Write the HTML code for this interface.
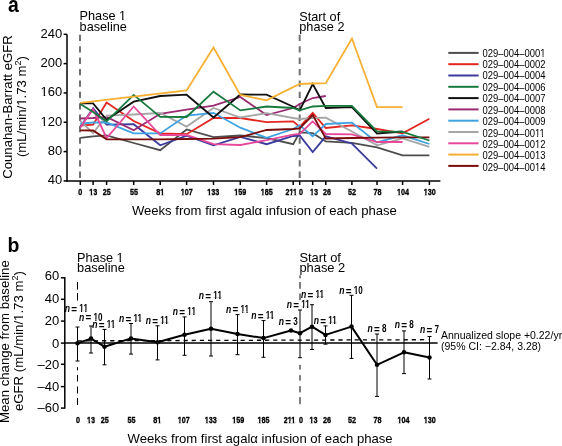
<!DOCTYPE html>
<html><head><meta charset="utf-8"><style>
html,body{margin:0;padding:0;background:#fff;}
svg{display:block;will-change:transform;}
text{font-family:"Liberation Sans",sans-serif;}
.t13{font-size:13px;fill:#000;}
.tk{font-family:"Liberation Sans",sans-serif;font-weight:bold;font-size:9.9px;fill:#000;stroke:#000;stroke-width:0.35px;}
.lg{font-size:10px;fill:#000;}
.nl{font-weight:bold;font-size:10.6px;fill:#000;}
</style></head><body>
<svg width="562" height="446" viewBox="0 0 562 446">
<rect width="562" height="446" fill="#fff"/>

<text x="0" y="0" transform="translate(7.9 11.8) scale(0.88 1)" style="font-weight:bold;font-size:22px">a</text>
<g transform="translate(12.2,107) rotate(-90)"><text class="t13" style="font-size:13.2px" text-anchor="middle" x="0" y="0">Counahan-Barratt eGFR</text></g>
<g transform="translate(25.95,106.6) rotate(-90)"><text class="t13" style="font-size:13.2px" text-anchor="middle" x="0" y="0">(mL/min/1.73 m<tspan dy="-5.2" font-size="9">2</tspan><tspan dy="5.2">)</tspan></text></g>
<path d="M67 34.3 V181.8" stroke="#000" stroke-width="1.5" fill="none"/>
<path d="M63.6 34.3 H67" stroke="#000" stroke-width="1.5"/>
<text class="t13" text-anchor="end" x="62.3" y="37.7">240</text>
<path d="M63.6 63.62 H67" stroke="#000" stroke-width="1.5"/>
<text class="t13" text-anchor="end" x="62.3" y="67.02">200</text>
<path d="M63.6 92.94 H67" stroke="#000" stroke-width="1.5"/>
<text class="t13" text-anchor="end" x="62.3" y="96.34">160</text>
<path d="M63.6 122.26 H67" stroke="#000" stroke-width="1.5"/>
<text class="t13" text-anchor="end" x="62.3" y="125.66">120</text>
<path d="M63.6 151.58 H67" stroke="#000" stroke-width="1.5"/>
<text class="t13" text-anchor="end" x="62.3" y="154.98">80</text>
<path d="M63.6 180.9 H67" stroke="#000" stroke-width="1.5"/>
<text class="t13" text-anchor="end" x="62.3" y="184.3">40</text>
<path d="M66.3 181 H440.4" stroke="#000" stroke-width="1.5" fill="none"/>
<path d="M80.3 181 V185" stroke="#000" stroke-width="1.5"/>
<path d="M93.1 181 V185" stroke="#000" stroke-width="1.5"/>
<path d="M106.6 181 V185" stroke="#000" stroke-width="1.5"/>
<path d="M133.7 181 V185" stroke="#000" stroke-width="1.5"/>
<path d="M160.2 181 V185" stroke="#000" stroke-width="1.5"/>
<path d="M186.6 181 V185" stroke="#000" stroke-width="1.5"/>
<path d="M213.5 181 V185" stroke="#000" stroke-width="1.5"/>
<path d="M240.3 181 V185" stroke="#000" stroke-width="1.5"/>
<path d="M266.6 181 V185" stroke="#000" stroke-width="1.5"/>
<path d="M293.2 181 V185" stroke="#000" stroke-width="1.5"/>
<path d="M299.7 181 V185" stroke="#000" stroke-width="1.5"/>
<path d="M312.7 181 V185" stroke="#000" stroke-width="1.5"/>
<path d="M325.8 181 V185" stroke="#000" stroke-width="1.5"/>
<path d="M351.9 181 V185" stroke="#000" stroke-width="1.5"/>
<path d="M377 181 V185" stroke="#000" stroke-width="1.5"/>
<path d="M402.6 181 V185" stroke="#000" stroke-width="1.5"/>
<path d="M429.4 181 V185" stroke="#000" stroke-width="1.5"/>
<path d="M80 34.8 V180" stroke="#707070" stroke-width="2" stroke-dasharray="6.3 5.1" fill="none"/>
<path d="M299.7 34.8 V180" stroke="#707070" stroke-width="2" stroke-dasharray="6.3 5.1" fill="none"/>
<text class="tk" text-anchor="middle" x="0" y="194.7" transform="translate(80.35 0) scale(0.73 1) translate(0 0)">0</text>
<text class="tk" text-anchor="middle" x="0" y="194.7" transform="translate(93.3 0) scale(0.73 1) translate(0 0)">13</text>
<text class="tk" text-anchor="middle" x="0" y="194.7" transform="translate(106.7 0) scale(0.73 1) translate(0 0)">25</text>
<text class="tk" text-anchor="middle" x="0" y="194.7" transform="translate(134.1 0) scale(0.73 1) translate(0 0)">55</text>
<text class="tk" text-anchor="middle" x="0" y="194.7" transform="translate(160.2 0) scale(0.73 1) translate(0 0)">81</text>
<text class="tk" text-anchor="middle" x="0" y="194.7" transform="translate(186.7 0) scale(0.73 1) translate(0 0)">107</text>
<text class="tk" text-anchor="middle" x="0" y="194.7" transform="translate(213.3 0) scale(0.73 1) translate(0 0)">133</text>
<text class="tk" text-anchor="middle" x="0" y="194.7" transform="translate(240.2 0) scale(0.73 1) translate(0 0)">159</text>
<text class="tk" text-anchor="middle" x="0" y="194.7" transform="translate(266.7 0) scale(0.73 1) translate(0 0)">185</text>
<text class="tk" text-anchor="middle" x="0" y="194.7" transform="translate(291.2 0) scale(0.73 1) translate(0 0)">211</text>
<text class="tk" text-anchor="middle" x="0" y="194.7" transform="translate(301.1 0) scale(0.73 1) translate(0 0)">0</text>
<text class="tk" text-anchor="middle" x="0" y="194.7" transform="translate(313.9 0) scale(0.73 1) translate(0 0)">13</text>
<text class="tk" text-anchor="middle" x="0" y="194.7" transform="translate(327.1 0) scale(0.73 1) translate(0 0)">26</text>
<text class="tk" text-anchor="middle" x="0" y="194.7" transform="translate(352 0) scale(0.73 1) translate(0 0)">52</text>
<text class="tk" text-anchor="middle" x="0" y="194.7" transform="translate(377.5 0) scale(0.73 1) translate(0 0)">78</text>
<text class="tk" text-anchor="middle" x="0" y="194.7" transform="translate(403 0) scale(0.73 1) translate(0 0)">104</text>
<text class="tk" text-anchor="middle" x="0" y="194.7" transform="translate(429.7 0) scale(0.73 1) translate(0 0)">130</text>
<text class="t13" x="131.9" y="214.8" style="font-size:13.1px">Weeks from first agalα infusion of each phase</text>
<text x="79.6" y="20.2" style="font-size:12.7px">Phase 1</text><text x="79.6" y="31.2" style="font-size:12.7px">baseline</text>
<text x="299.3" y="20.5" style="font-size:12.7px">Start of</text><text x="299.3" y="30.7" style="font-size:12.7px">phase 2</text>
<path d="M80.3 137.8 L93.1 136.3 L106.6 135.3 L133.7 143 L160.2 150.2 L186.6 129.5 L213.5 137.1 L240.3 135.5 L266.6 138 L293.2 144.2 L299.7 132.4 L312.7 133.2 L325.8 141.4 L351.9 142.8 L377 147.3 L402.6 155.3 L429.4 155.3" stroke="#4d4d4d" stroke-width="1.8" fill="none" stroke-linejoin="miter"/>
<path d="M80.3 125.5 L93.1 124.7 L106.6 102.6 L133.7 121 L160.2 133.4 L186.6 134.2 L213.5 118 L240.3 118 L266.6 122.2 L293.2 121.4 L299.7 126.9 L312.7 112.8 L325.8 128 L351.9 125.3 L377 129 L402.6 133.3 L429.4 118.8" stroke="#e3261f" stroke-width="1.8" fill="none" stroke-linejoin="miter"/>
<path d="M80.3 127 L93.1 108.2 L106.6 124.7 L133.7 124.2 L160.2 145.3 L186.6 135.7 L213.5 145.3 L240.3 137 L266.6 144.2 L293.2 136 L299.7 135.5 L312.7 152 L325.8 136.3 L351.9 143.5 L377 168.7" stroke="#3b3b9e" stroke-width="1.8" fill="none" stroke-linejoin="miter"/>
<path d="M80.3 118.5 L93.1 118 L106.6 117 L133.7 130.2 L160.2 113.8 L186.6 109.6 L213.5 105.7 L240.3 97 L266.6 115.1 L293.2 108 L299.7 104 L312.7 98 L325.8 96" stroke="#9a2a72" stroke-width="1.8" fill="none" stroke-linejoin="miter"/>
<path d="M80.3 121 L93.1 133.1 L106.6 115.7 L133.7 114.5 L160.2 113 L186.6 126.6 L213.5 108 L240.3 117.5 L266.6 113.2 L293.2 118 L299.7 119 L312.7 118 L325.8 117.6 L351.9 131.5 L377 145.3 L402.6 138.5 L429.4 146.8" stroke="#a6a6a6" stroke-width="1.8" fill="none" stroke-linejoin="miter"/>
<path d="M80.3 123.6 L93.1 122.5 L106.6 122.5 L133.7 133.4 L160.2 133.4 L186.6 115.5 L213.5 112.8 L240.3 127.7 L266.6 137.9 L293.2 129 L299.7 125.3 L312.7 136.3 L325.8 124 L351.9 122.6 L377 142.4 L402.6 135.3 L429.4 144" stroke="#3ea3e0" stroke-width="1.8" fill="none" stroke-linejoin="miter"/>
<path d="M80.3 127.5 L93.1 109 L106.6 138 L133.7 106.5 L160.2 135 L186.6 135 L213.5 144.2 L240.3 145 L266.6 140.2 L293.2 134.7 L299.7 134 L312.7 121.4 L325.8 134 L351.9 134.3 L377 142 L402.6 142" stroke="#e8489a" stroke-width="1.8" fill="none" stroke-linejoin="miter"/>
<path d="M80.3 130.3 L93.1 130.5 L106.6 139.3 L133.7 139.3 L160.2 139.3 L186.6 139 L213.5 138.7 L240.3 137.1 L266.6 130 L293.2 129 L299.7 128.5 L312.7 115.1 L325.8 138.5 L351.9 138 L377 137.6 L402.6 137.4 L429.4 137.4" stroke="#7a0c0c" stroke-width="1.8" fill="none" stroke-linejoin="miter"/>
<path d="M80.3 103.4 L93.1 103.4 L106.6 119.7 L133.7 101.7 L160.2 96 L186.6 94.7 L213.5 117.5 L240.3 94.5 L266.6 94.6 L293.2 106.7 L299.7 110.4 L312.7 84 L325.8 108 L351.9 107.2 L377 133.5 L402.6 131.5" stroke="#111111" stroke-width="1.8" fill="none" stroke-linejoin="miter"/>
<path d="M80.3 104 L93.1 112 L106.6 121.3 L133.7 94.9 L160.2 116.9 L186.6 117 L213.5 91.7 L240.3 110.4 L266.6 106.5 L293.2 108 L299.7 110.4 L312.7 106.5 L325.8 105.8 L351.9 105.8 L377 131.3 L402.6 131.8 L429.4 140.5" stroke="#177a3c" stroke-width="1.8" fill="none" stroke-linejoin="miter"/>
<path d="M80.3 102.8 L186.6 90.5 L213.5 47.5 L240.3 95 L266.6 100.3 L299.7 84 L312.7 83.5 L325.8 83.2 L351.9 38.5 L377 107.1 L402.6 107.1" stroke="#f7b032" stroke-width="1.8" fill="none" stroke-linejoin="miter"/>
<path d="M448.3 52.9 H478.6" stroke="#4d4d4d" stroke-width="2"/>
<text class="lg" x="0" y="0" transform="translate(482.5 56.6) scale(0.945 1)">029–004–0001</text>
<path d="M448.3 64.2 H478.6" stroke="#e3261f" stroke-width="2"/>
<text class="lg" x="0" y="0" transform="translate(482.5 68.03) scale(0.945 1)">029–004–0002</text>
<path d="M448.3 75.5 H478.6" stroke="#3b3b9e" stroke-width="2"/>
<text class="lg" x="0" y="0" transform="translate(482.5 79.46) scale(0.945 1)">029–004–0004</text>
<path d="M448.3 86.8 H478.6" stroke="#177a3c" stroke-width="2"/>
<text class="lg" x="0" y="0" transform="translate(482.5 90.89) scale(0.945 1)">029–004–0006</text>
<path d="M448.3 98.1 H478.6" stroke="#111111" stroke-width="2"/>
<text class="lg" x="0" y="0" transform="translate(482.5 102.32) scale(0.945 1)">029–004–0007</text>
<path d="M448.3 109.4 H478.6" stroke="#9a2a72" stroke-width="2"/>
<text class="lg" x="0" y="0" transform="translate(482.5 113.75) scale(0.945 1)">029–004–0008</text>
<path d="M448.3 120.7 H478.6" stroke="#3ea3e0" stroke-width="2"/>
<text class="lg" x="0" y="0" transform="translate(482.5 125.18) scale(0.945 1)">029–004–0009</text>
<path d="M448.3 132 H478.6" stroke="#a6a6a6" stroke-width="2"/>
<text class="lg" x="0" y="0" transform="translate(482.5 136.61) scale(0.945 1)">029–004–0011</text>
<path d="M448.3 143.3 H478.6" stroke="#e8489a" stroke-width="2"/>
<text class="lg" x="0" y="0" transform="translate(482.5 148.04) scale(0.945 1)">029–004–0012</text>
<path d="M448.3 154.6 H478.6" stroke="#f7b032" stroke-width="2"/>
<text class="lg" x="0" y="0" transform="translate(482.5 159.47) scale(0.945 1)">029–004–0013</text>
<path d="M448.3 165.9 H478.6" stroke="#7a0c0c" stroke-width="2"/>
<text class="lg" x="0" y="0" transform="translate(482.5 170.9) scale(0.945 1)">029–004–0014</text>
<text x="7.6" y="252.2" style="font-weight:bold;font-size:19.5px">b</text>
<g transform="translate(9.2,341.6) rotate(-90)"><text class="t13" style="font-size:13.2px" text-anchor="middle" x="0" y="0">Mean change from baseline</text></g>
<g transform="translate(22.8,341.1) rotate(-90)"><text class="t13" style="font-size:13.2px" text-anchor="middle" x="0" y="0">eGFR (mL/min/1.73 m<tspan dy="-5.2" font-size="9">2</tspan><tspan dy="5.2">)</tspan></text></g>
<path d="M64.8 277.1 V408.8" stroke="#000" stroke-width="1.5" fill="none"/>
<path d="M60.9 277.8 H64.8" stroke="#000" stroke-width="1.5"/>
<text class="t13" text-anchor="end" x="59.2" y="280.1">60</text>
<path d="M60.9 299.3 H64.8" stroke="#000" stroke-width="1.5"/>
<text class="t13" text-anchor="end" x="59.2" y="302.9">40</text>
<path d="M60.9 321.1 H64.8" stroke="#000" stroke-width="1.5"/>
<text class="t13" text-anchor="end" x="59.2" y="325.4">20</text>
<path d="M60.9 343.1 H64.8" stroke="#000" stroke-width="1.5"/>
<text class="t13" text-anchor="end" x="59.2" y="347.7">0</text>
<path d="M60.9 364.3 H64.8" stroke="#000" stroke-width="1.5"/>
<text class="t13" text-anchor="end" x="59.2" y="369.1">–20</text>
<path d="M60.9 386.6 H64.8" stroke="#000" stroke-width="1.5"/>
<text class="t13" text-anchor="end" x="59.2" y="390.9">–40</text>
<path d="M60.9 408.1 H64.8" stroke="#000" stroke-width="1.5"/>
<text class="t13" text-anchor="end" x="59.2" y="411.7">–60</text>
<path d="M64.8 343.0 H437.6" stroke="#000" stroke-width="1.7" fill="none"/>
<path d="M77.6 340.85 L428.4 339.7" stroke="#000" stroke-width="1.3" stroke-dasharray="4.2 3.95" stroke-dashoffset="0" fill="none"/>
<path d="M77.5 282 V289.5 M77.5 293 V300.5 M77.5 367.2 V370.4 M77.5 375 V381.5 M77.5 386.5 V393.5 M77.5 398 V405" stroke="#000" stroke-width="1" fill="none"/>
<path d="M300 275.4 V278.2 M300 282 V288.8 M300 293.5 V300.2 M300 364.9 V369.6 M300 375.1 V380.6 M300 386.1 V392.4 M300 397.1 V404.2" stroke="#000" stroke-width="1" fill="none"/>
<path d="M77.5 327 V361 M75.5 327 H79.5 M75.5 361 H79.5" stroke="#000" stroke-width="1" fill="none"/>
<path d="M91 326 V353 M89 326 H93 M89 353 H93" stroke="#000" stroke-width="1" fill="none"/>
<path d="M104.5 329.4 V364.8 M102.5 329.4 H106.5 M102.5 364.8 H106.5" stroke="#000" stroke-width="1" fill="none"/>
<path d="M131 323.5 V354.1 M129 323.5 H133 M129 354.1 H133" stroke="#000" stroke-width="1" fill="none"/>
<path d="M157.5 325.8 V359.9 M155.5 325.8 H159.5 M155.5 359.9 H159.5" stroke="#000" stroke-width="1" fill="none"/>
<path d="M184.5 316.9 V355.3 M182.5 316.9 H186.5 M182.5 355.3 H186.5" stroke="#000" stroke-width="1" fill="none"/>
<path d="M211 301.7 V356 M209 301.7 H213 M209 356 H213" stroke="#000" stroke-width="1" fill="none"/>
<path d="M237.5 314.6 V354.7 M235.5 314.6 H239.5 M235.5 354.7 H239.5" stroke="#000" stroke-width="1" fill="none"/>
<path d="M263.5 320.6 V357.3 M261.5 320.6 H265.5 M261.5 357.3 H265.5" stroke="#000" stroke-width="1" fill="none"/>
<path d="M300 310 V357.7 M298 310 H302 M298 357.7 H302" stroke="#000" stroke-width="1" fill="none"/>
<path d="M312 304.7 V349.5 M310 304.7 H314 M310 349.5 H314" stroke="#000" stroke-width="1" fill="none"/>
<path d="M325.5 325.9 V344.2 M323.5 325.9 H327.5 M323.5 344.2 H327.5" stroke="#000" stroke-width="1" fill="none"/>
<path d="M351.5 295.3 V358.4 M349.5 295.3 H353.5 M349.5 358.4 H353.5" stroke="#000" stroke-width="1" fill="none"/>
<path d="M377 334 V396.4 M375 334 H379 M375 396.4 H379" stroke="#000" stroke-width="1" fill="none"/>
<path d="M404 330.9 V373.6 M402 330.9 H406 M402 373.6 H406" stroke="#000" stroke-width="1" fill="none"/>
<path d="M429.5 336.5 V379 M427.5 336.5 H431.5 M427.5 379 H431.5" stroke="#000" stroke-width="1" fill="none"/>
<path d="M77.5 343.3 L91 338.6 L104.5 346.7 L131 338.4 L157.5 342.3 L184.5 334.8 L211 328.8 L237.5 334 L263.5 338.1 L291 330.5 L300 333.2 L312 326.7 L325.5 334.9 L351.5 326.6 L377 364.8 L404 352.3 L429.5 357.6" stroke="#000" stroke-width="2.0" fill="none" stroke-linejoin="round"/>
<circle cx="77.5" cy="343.3" r="2.25" fill="#000"/>
<circle cx="91" cy="338.6" r="2.25" fill="#000"/>
<circle cx="104.5" cy="346.7" r="2.25" fill="#000"/>
<circle cx="131" cy="338.4" r="2.25" fill="#000"/>
<circle cx="157.5" cy="342.3" r="2.25" fill="#000"/>
<circle cx="184.5" cy="334.8" r="2.25" fill="#000"/>
<circle cx="211" cy="328.8" r="2.25" fill="#000"/>
<circle cx="237.5" cy="334" r="2.25" fill="#000"/>
<circle cx="263.5" cy="338.1" r="2.25" fill="#000"/>
<circle cx="291" cy="330.5" r="2.25" fill="#000"/>
<circle cx="300" cy="333.2" r="2.25" fill="#000"/>
<circle cx="312" cy="326.7" r="2.25" fill="#000"/>
<circle cx="325.5" cy="334.9" r="2.25" fill="#000"/>
<circle cx="351.5" cy="326.6" r="2.25" fill="#000"/>
<circle cx="377" cy="364.8" r="2.25" fill="#000"/>
<circle cx="404" cy="352.3" r="2.25" fill="#000"/>
<circle cx="429.5" cy="357.6" r="2.25" fill="#000"/>
<g transform="translate(65.3 311.8) scale(0.75 1)"><text class="nl" style="font-style:italic;font-size:11.5px" x="-0.6" y="0">n</text></g><g transform="translate(71.7 311.8) scale(0.86 1)"><text class="nl" style="font-size:11.5px" x="-0.4" y="0.9">=</text></g><g transform="translate(79.7 311.8) scale(0.685 1)"><text class="nl" style="font-size:11.8px" x="-0.5" y="0">11</text></g>
<g transform="translate(79.4 320.5) scale(0.75 1)"><text class="nl" style="font-style:italic;font-size:11.5px" x="-0.6" y="0">n</text></g><g transform="translate(85.8 320.5) scale(0.86 1)"><text class="nl" style="font-size:11.5px" x="-0.4" y="0.9">=</text></g><g transform="translate(93.8 320.5) scale(0.685 1)"><text class="nl" style="font-size:11.8px" x="-0.5" y="0">10</text></g>
<g transform="translate(92.7 327.9) scale(0.75 1)"><text class="nl" style="font-style:italic;font-size:11.5px" x="-0.6" y="0">n</text></g><g transform="translate(99.1 327.9) scale(0.86 1)"><text class="nl" style="font-size:11.5px" x="-0.4" y="0.9">=</text></g><g transform="translate(107.1 327.9) scale(0.685 1)"><text class="nl" style="font-size:11.8px" x="-0.5" y="0">11</text></g>
<g transform="translate(119.5 322.3) scale(0.75 1)"><text class="nl" style="font-style:italic;font-size:11.5px" x="-0.6" y="0">n</text></g><g transform="translate(125.9 322.3) scale(0.86 1)"><text class="nl" style="font-size:11.5px" x="-0.4" y="0.9">=</text></g><g transform="translate(133.9 322.3) scale(0.685 1)"><text class="nl" style="font-size:11.8px" x="-0.5" y="0">11</text></g>
<g transform="translate(146.1 324.4) scale(0.75 1)"><text class="nl" style="font-style:italic;font-size:11.5px" x="-0.6" y="0">n</text></g><g transform="translate(152.5 324.4) scale(0.86 1)"><text class="nl" style="font-size:11.5px" x="-0.4" y="0.9">=</text></g><g transform="translate(160.5 324.4) scale(0.685 1)"><text class="nl" style="font-size:11.8px" x="-0.5" y="0">11</text></g>
<g transform="translate(173.3 314.8) scale(0.75 1)"><text class="nl" style="font-style:italic;font-size:11.5px" x="-0.6" y="0">n</text></g><g transform="translate(179.7 314.8) scale(0.86 1)"><text class="nl" style="font-size:11.5px" x="-0.4" y="0.9">=</text></g><g transform="translate(187.7 314.8) scale(0.685 1)"><text class="nl" style="font-size:11.8px" x="-0.5" y="0">11</text></g>
<g transform="translate(199.3 299.4) scale(0.75 1)"><text class="nl" style="font-style:italic;font-size:11.5px" x="-0.6" y="0">n</text></g><g transform="translate(205.7 299.4) scale(0.86 1)"><text class="nl" style="font-size:11.5px" x="-0.4" y="0.9">=</text></g><g transform="translate(213.7 299.4) scale(0.685 1)"><text class="nl" style="font-size:11.8px" x="-0.5" y="0">11</text></g>
<g transform="translate(226.5 312.5) scale(0.75 1)"><text class="nl" style="font-style:italic;font-size:11.5px" x="-0.6" y="0">n</text></g><g transform="translate(232.9 312.5) scale(0.86 1)"><text class="nl" style="font-size:11.5px" x="-0.4" y="0.9">=</text></g><g transform="translate(240.9 312.5) scale(0.685 1)"><text class="nl" style="font-size:11.8px" x="-0.5" y="0">11</text></g>
<g transform="translate(251.7 319.3) scale(0.75 1)"><text class="nl" style="font-style:italic;font-size:11.5px" x="-0.6" y="0">n</text></g><g transform="translate(258.1 319.3) scale(0.86 1)"><text class="nl" style="font-size:11.5px" x="-0.4" y="0.9">=</text></g><g transform="translate(266.1 319.3) scale(0.685 1)"><text class="nl" style="font-size:11.8px" x="-0.5" y="0">11</text></g>
<g transform="translate(279.3 325.4) scale(0.75 1)"><text class="nl" style="font-style:italic;font-size:11.5px" x="-0.6" y="0">n</text></g><g transform="translate(285.7 325.4) scale(0.86 1)"><text class="nl" style="font-size:11.5px" x="-0.4" y="0.9">=</text></g><g transform="translate(293.7 325.4) scale(0.685 1)"><text class="nl" style="font-size:11.8px" x="-0.5" y="0">3</text></g>
<g transform="translate(287.1 308) scale(0.75 1)"><text class="nl" style="font-style:italic;font-size:11.5px" x="-0.6" y="0">n</text></g><g transform="translate(293.5 308) scale(0.86 1)"><text class="nl" style="font-size:11.5px" x="-0.4" y="0.9">=</text></g><g transform="translate(301.5 308) scale(0.685 1)"><text class="nl" style="font-size:11.8px" x="-0.5" y="0">11</text></g>
<g transform="translate(301.4 298.4) scale(0.75 1)"><text class="nl" style="font-style:italic;font-size:11.5px" x="-0.6" y="0">n</text></g><g transform="translate(307.8 298.4) scale(0.86 1)"><text class="nl" style="font-size:11.5px" x="-0.4" y="0.9">=</text></g><g transform="translate(315.8 298.4) scale(0.685 1)"><text class="nl" style="font-size:11.8px" x="-0.5" y="0">11</text></g>
<g transform="translate(314.1 324.4) scale(0.75 1)"><text class="nl" style="font-style:italic;font-size:11.5px" x="-0.6" y="0">n</text></g><g transform="translate(320.5 324.4) scale(0.86 1)"><text class="nl" style="font-size:11.5px" x="-0.4" y="0.9">=</text></g><g transform="translate(328.5 324.4) scale(0.685 1)"><text class="nl" style="font-size:11.8px" x="-0.5" y="0">11</text></g>
<g transform="translate(339.8 293.8) scale(0.75 1)"><text class="nl" style="font-style:italic;font-size:11.5px" x="-0.6" y="0">n</text></g><g transform="translate(346.2 293.8) scale(0.86 1)"><text class="nl" style="font-size:11.5px" x="-0.4" y="0.9">=</text></g><g transform="translate(354.2 293.8) scale(0.685 1)"><text class="nl" style="font-size:11.8px" x="-0.5" y="0">10</text></g>
<g transform="translate(367.9 331.7) scale(0.75 1)"><text class="nl" style="font-style:italic;font-size:11.5px" x="-0.6" y="0">n</text></g><g transform="translate(374.3 331.7) scale(0.86 1)"><text class="nl" style="font-size:11.5px" x="-0.4" y="0.9">=</text></g><g transform="translate(382.3 331.7) scale(0.685 1)"><text class="nl" style="font-size:11.8px" x="-0.5" y="0">8</text></g>
<g transform="translate(395.1 328) scale(0.75 1)"><text class="nl" style="font-style:italic;font-size:11.5px" x="-0.6" y="0">n</text></g><g transform="translate(401.5 328) scale(0.86 1)"><text class="nl" style="font-size:11.5px" x="-0.4" y="0.9">=</text></g><g transform="translate(409.5 328) scale(0.685 1)"><text class="nl" style="font-size:11.8px" x="-0.5" y="0">8</text></g>
<g transform="translate(420.4 333.3) scale(0.75 1)"><text class="nl" style="font-style:italic;font-size:11.5px" x="-0.6" y="0">n</text></g><g transform="translate(426.8 333.3) scale(0.86 1)"><text class="nl" style="font-size:11.5px" x="-0.4" y="0.9">=</text></g><g transform="translate(434.8 333.3) scale(0.685 1)"><text class="nl" style="font-size:11.8px" x="-0.5" y="0">7</text></g>
<text class="tk" text-anchor="middle" x="0" y="422.8" transform="translate(78 0) scale(0.73 1)">0</text>
<text class="tk" text-anchor="middle" x="0" y="422.8" transform="translate(91.1 0) scale(0.73 1)">13</text>
<text class="tk" text-anchor="middle" x="0" y="422.8" transform="translate(104.7 0) scale(0.73 1)">25</text>
<text class="tk" text-anchor="middle" x="0" y="422.8" transform="translate(131.5 0) scale(0.73 1)">55</text>
<text class="tk" text-anchor="middle" x="0" y="422.8" transform="translate(157.3 0) scale(0.73 1)">81</text>
<text class="tk" text-anchor="middle" x="0" y="422.8" transform="translate(183.7 0) scale(0.73 1)">107</text>
<text class="tk" text-anchor="middle" x="0" y="422.8" transform="translate(210.8 0) scale(0.73 1)">133</text>
<text class="tk" text-anchor="middle" x="0" y="422.8" transform="translate(238.2 0) scale(0.73 1)">159</text>
<text class="tk" text-anchor="middle" x="0" y="422.8" transform="translate(263.6 0) scale(0.73 1)">185</text>
<text class="tk" text-anchor="middle" x="0" y="422.8" transform="translate(289.5 0) scale(0.73 1)">211</text>
<text class="tk" text-anchor="middle" x="0" y="422.8" transform="translate(301 0) scale(0.73 1)">0</text>
<text class="tk" text-anchor="middle" x="0" y="422.8" transform="translate(313.5 0) scale(0.73 1)">13</text>
<text class="tk" text-anchor="middle" x="0" y="422.8" transform="translate(327 0) scale(0.73 1)">26</text>
<text class="tk" text-anchor="middle" x="0" y="422.8" transform="translate(352 0) scale(0.73 1)">52</text>
<text class="tk" text-anchor="middle" x="0" y="422.8" transform="translate(377.5 0) scale(0.73 1)">78</text>
<text class="tk" text-anchor="middle" x="0" y="422.8" transform="translate(403.5 0) scale(0.73 1)">104</text>
<text class="tk" text-anchor="middle" x="0" y="422.8" transform="translate(429.8 0) scale(0.73 1)">130</text>
<text class="t13" x="127.6" y="442.9" style="font-size:13.1px">Weeks from first agalα infusion of each phase</text>
<text x="77.1" y="262.1" style="font-size:12.7px">Phase 1</text><text x="77.1" y="272.2" style="font-size:12.8px">baseline</text>
<text x="299.4" y="262.0" style="font-size:12.9px">Start of</text><text x="299.4" y="272.2" style="font-size:12.9px">phase 2</text>
<text x="441" y="338.8" style="font-size:10.5px">Annualized slope +0.22/yr</text>
<text x="441" y="350.2" style="font-size:10.5px">(95% CI: −2.84, 3.28)</text>
<g fill="#fff"><polygon points="24.66,105.58 24.66,102.61 26.55,102.61 26.55,105.58"/><polygon points="24.66,101.25 24.66,98.54 26.55,98.54 26.55,101.25"/><polygon points="40.84,95.07 43.77,95.07 43.77,96.94 40.84,96.94"/><polygon points="45.12,95.07 47.79,95.07 47.79,96.94 45.12,96.94"/><polygon points="40.84,124.39 43.77,124.39 43.77,126.26 40.84,126.26"/><polygon points="45.12,124.39 47.79,124.39 47.79,126.26 45.12,126.26"/><polygon points="89.06,193.21 90.77,193.21 90.77,195.47 89.06,195.47"/><polygon points="92.16,193.21 93.67,193.21 93.67,195.47 92.16,195.47"/><polygon points="159.97,193.21 161.68,193.21 161.68,195.47 159.97,195.47"/><polygon points="163.08,193.21 164.58,193.21 164.58,195.47 163.08,195.47"/><polygon points="180.45,193.21 182.16,193.21 182.16,195.47 180.45,195.47"/><polygon points="183.56,193.21 185.06,193.21 185.06,195.47 183.56,195.47"/><polygon points="207.05,193.21 208.76,193.21 208.76,195.47 207.05,195.47"/><polygon points="210.16,193.21 211.66,193.21 211.66,195.47 210.16,195.47"/><polygon points="233.95,193.21 235.66,193.21 235.66,195.47 233.95,195.47"/><polygon points="237.06,193.21 238.56,193.21 238.56,195.47 237.06,195.47"/><polygon points="260.45,193.21 262.16,193.21 262.16,195.47 260.45,195.47"/><polygon points="263.56,193.21 265.06,193.21 265.06,195.47 263.56,195.47"/><polygon points="289.12,193.21 290.71,193.21 290.71,195.47 289.12,195.47"/><polygon points="292,193.21 293.4,193.21 293.4,195.47 292,195.47"/><polygon points="292.78,193.21 294.49,193.21 294.49,195.47 292.78,195.47"/><polygon points="295.88,193.21 297.39,193.21 297.39,195.47 295.88,195.47"/><polygon points="309.66,193.21 311.37,193.21 311.37,195.47 309.66,195.47"/><polygon points="312.76,193.21 314.27,193.21 314.27,195.47 312.76,195.47"/><polygon points="396.75,193.21 398.46,193.21 398.46,195.47 396.75,195.47"/><polygon points="399.86,193.21 401.36,193.21 401.36,195.47 399.86,195.47"/><polygon points="423.45,193.21 425.16,193.21 425.16,195.47 423.45,195.47"/><polygon points="426.56,193.21 428.06,193.21 428.06,195.47 426.56,195.47"/><polygon points="119.3,18.95 122.18,18.95 122.18,20.8 119.3,20.8"/><polygon points="123.51,18.95 126.14,18.95 126.14,20.8 123.51,20.8"/><polygon points="540.26,55.55 542.53,55.55 542.53,57.2 540.26,57.2"/><polygon points="543.56,55.55 545.62,55.55 545.62,57.2 543.56,57.2"/><polygon points="534.96,135.56 537.13,135.56 537.13,137.21 534.96,137.21"/><polygon points="538.1,135.56 540.05,135.56 540.05,137.21 538.1,137.21"/><polygon points="539.86,135.56 542.02,135.56 542.02,137.21 539.86,137.21"/><polygon points="542.99,135.56 544.94,135.56 544.94,137.21 542.99,137.21"/><polygon points="535.01,146.99 537.28,146.99 537.28,148.64 535.01,148.64"/><polygon points="538.31,146.99 540.37,146.99 540.37,148.64 538.31,148.64"/><polygon points="535.01,158.42 537.28,158.42 537.28,160.07 535.01,160.07"/><polygon points="538.31,158.42 540.37,158.42 540.37,160.07 538.31,160.07"/><polygon points="535.01,169.85 537.28,169.85 537.28,171.5 535.01,171.5"/><polygon points="538.31,169.85 540.37,169.85 540.37,171.5 538.31,171.5"/><polygon points="21.51,320.67 21.51,317.7 23.4,317.7 23.4,320.67"/><polygon points="21.51,316.33 21.51,313.62 23.4,313.62 23.4,316.33"/><polygon points="79.3,310.3 80.99,310.3 80.99,312.4 79.3,312.4"/><polygon points="82.13,310.3 83.62,310.3 83.62,312.4 82.13,312.4"/><polygon points="83.4,310.3 85.22,310.3 85.22,312.4 83.4,312.4"/><polygon points="86.47,310.3 88.09,310.3 88.09,312.4 86.47,312.4"/><polygon points="93.45,319 95.28,319 95.28,321.1 93.45,321.1"/><polygon points="96.52,319 98.14,319 98.14,321.1 96.52,321.1"/><polygon points="106.7,326.4 108.39,326.4 108.39,328.5 106.7,328.5"/><polygon points="109.53,326.4 111.02,326.4 111.02,328.5 109.53,328.5"/><polygon points="110.8,326.4 112.62,326.4 112.62,328.5 110.8,328.5"/><polygon points="113.87,326.4 115.49,326.4 115.49,328.5 113.87,328.5"/><polygon points="133.5,320.8 135.19,320.8 135.19,322.9 133.5,322.9"/><polygon points="136.33,320.8 137.82,320.8 137.82,322.9 136.33,322.9"/><polygon points="137.6,320.8 139.42,320.8 139.42,322.9 137.6,322.9"/><polygon points="140.67,320.8 142.29,320.8 142.29,322.9 140.67,322.9"/><polygon points="160.1,322.9 161.79,322.9 161.79,325 160.1,325"/><polygon points="162.93,322.9 164.42,322.9 164.42,325 162.93,325"/><polygon points="164.2,322.9 166.02,322.9 166.02,325 164.2,325"/><polygon points="167.27,322.9 168.89,322.9 168.89,325 167.27,325"/><polygon points="187.3,313.3 188.99,313.3 188.99,315.4 187.3,315.4"/><polygon points="190.13,313.3 191.62,313.3 191.62,315.4 190.13,315.4"/><polygon points="191.4,313.3 193.22,313.3 193.22,315.4 191.4,315.4"/><polygon points="194.47,313.3 196.09,313.3 196.09,315.4 194.47,315.4"/><polygon points="213.3,297.9 214.99,297.9 214.99,300 213.3,300"/><polygon points="216.13,297.9 217.62,297.9 217.62,300 216.13,300"/><polygon points="217.4,297.9 219.22,297.9 219.22,300 217.4,300"/><polygon points="220.47,297.9 222.09,297.9 222.09,300 220.47,300"/><polygon points="240.5,311 242.19,311 242.19,313.1 240.5,313.1"/><polygon points="243.33,311 244.82,311 244.82,313.1 243.33,313.1"/><polygon points="244.6,311 246.42,311 246.42,313.1 244.6,313.1"/><polygon points="247.67,311 249.29,311 249.29,313.1 247.67,313.1"/><polygon points="265.7,317.8 267.39,317.8 267.39,319.9 265.7,319.9"/><polygon points="268.53,317.8 270.02,317.8 270.02,319.9 268.53,319.9"/><polygon points="269.8,317.8 271.62,317.8 271.62,319.9 269.8,319.9"/><polygon points="272.87,317.8 274.49,317.8 274.49,319.9 272.87,319.9"/><polygon points="301.1,306.5 302.79,306.5 302.79,308.6 301.1,308.6"/><polygon points="303.93,306.5 305.42,306.5 305.42,308.6 303.93,308.6"/><polygon points="305.2,306.5 307.02,306.5 307.02,308.6 305.2,308.6"/><polygon points="308.27,306.5 309.89,306.5 309.89,308.6 308.27,308.6"/><polygon points="315.4,296.9 317.09,296.9 317.09,299 315.4,299"/><polygon points="318.23,296.9 319.72,296.9 319.72,299 318.23,299"/><polygon points="319.5,296.9 321.32,296.9 321.32,299 319.5,299"/><polygon points="322.57,296.9 324.19,296.9 324.19,299 322.57,299"/><polygon points="328.1,322.9 329.79,322.9 329.79,325 328.1,325"/><polygon points="330.93,322.9 332.42,322.9 332.42,325 330.93,325"/><polygon points="332.2,322.9 334.02,322.9 334.02,325 332.2,325"/><polygon points="335.27,322.9 336.89,322.9 336.89,325 335.27,325"/><polygon points="353.85,292.3 355.68,292.3 355.68,294.4 353.85,294.4"/><polygon points="356.92,292.3 358.54,292.3 358.54,294.4 356.92,294.4"/><polygon points="86.86,421.31 88.57,421.31 88.57,423.58 86.86,423.58"/><polygon points="89.96,421.31 91.47,421.31 91.47,423.58 89.96,423.58"/><polygon points="157.07,421.31 158.78,421.31 158.78,423.58 157.07,423.58"/><polygon points="160.18,421.31 161.68,421.31 161.68,423.58 160.18,423.58"/><polygon points="177.45,421.31 179.16,421.31 179.16,423.58 177.45,423.58"/><polygon points="180.56,421.31 182.06,421.31 182.06,423.58 180.56,423.58"/><polygon points="204.55,421.31 206.26,421.31 206.26,423.58 204.55,423.58"/><polygon points="207.66,421.31 209.16,421.31 209.16,423.58 207.66,423.58"/><polygon points="231.95,421.31 233.66,421.31 233.66,423.58 231.95,423.58"/><polygon points="235.06,421.31 236.56,421.31 236.56,423.58 235.06,423.58"/><polygon points="257.35,421.31 259.06,421.31 259.06,423.58 257.35,423.58"/><polygon points="260.46,421.31 261.96,421.31 261.96,423.58 260.46,423.58"/><polygon points="287.42,421.31 289.01,421.31 289.01,423.58 287.42,423.58"/><polygon points="290.3,421.31 291.7,421.31 291.7,423.58 290.3,423.58"/><polygon points="291.08,421.31 292.79,421.31 292.79,423.58 291.08,423.58"/><polygon points="294.18,421.31 295.69,421.31 295.69,423.58 294.18,423.58"/><polygon points="309.26,421.31 310.97,421.31 310.97,423.58 309.26,423.58"/><polygon points="312.36,421.31 313.87,421.31 313.87,423.58 312.36,423.58"/><polygon points="397.25,421.31 398.96,421.31 398.96,423.58 397.25,423.58"/><polygon points="400.36,421.31 401.86,421.31 401.86,423.58 400.36,423.58"/><polygon points="423.55,421.31 425.26,421.31 425.26,423.58 423.55,423.58"/><polygon points="426.66,421.31 428.16,421.31 428.16,423.58 426.66,423.58"/><polygon points="116.8,260.85 119.68,260.85 119.68,262.7 116.8,262.7"/><polygon points="121.01,260.85 123.64,260.85 123.64,262.7 121.01,262.7"/></g>
</svg></body></html>
